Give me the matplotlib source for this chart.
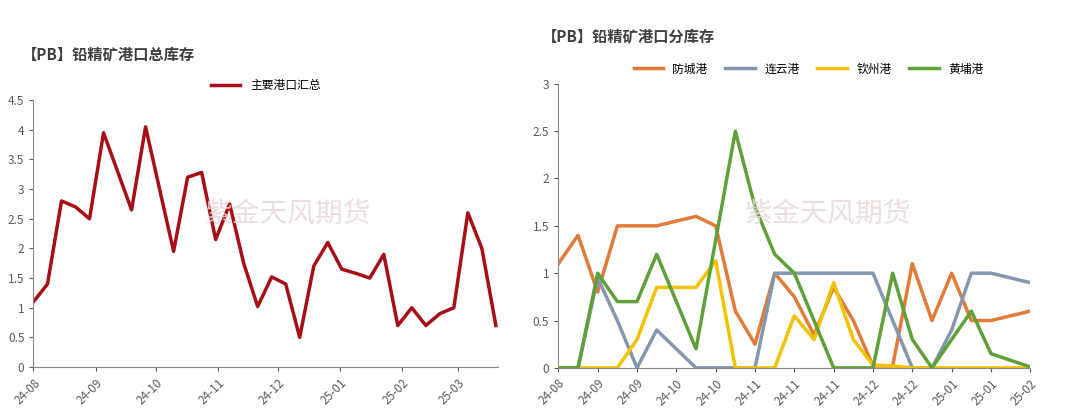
import matplotlib
matplotlib.use("Agg")
import matplotlib.pyplot as plt
import numpy as np
import pandas as pd

plt.rcParams['font.family'] = ['Noto Sans CJK SC', 'DejaVu Sans']

left_title = "【PB】铅精矿港口总库存"
left_series = "主要港口汇总"
left_vals = [1.1, 1.4, 2.8, 2.7, 2.5, 3.95, 3.3, 2.65, 4.05, 3.0, 1.95, 3.2, 3.28, 2.15,
             2.75, 1.75, 1.02, 1.52, 1.4, 0.5, 1.7, 2.1, 1.65, 1.58, 1.5, 1.9, 0.7, 1.0,
             0.7, 0.9, 1.0, 2.6, 2.0, 0.7]
left_start = "2024-08-01"
left_ticks = ["2024-08-01", "2024-09-01", "2024-10-01", "2024-11-01", "2024-12-01",
              "2025-01-01", "2025-02-01", "2025-03-01"]

right_title = "【PB】铅精矿港口分库存"
right_labels = ["24-08", "24-09", "24-09", "24-10", "24-10", "24-11", "24-11", "24-11",
                "24-12", "24-12", "25-01", "25-01", "25-02"]
names = ["防城港", "连云港", "钦州港", "黄埔港"]
fangcheng = [1.1, 1.4, 0.8, 1.5, 1.5, 1.5, 1.55, 1.6, 1.5, 0.6, 0.25, 1.0, 0.75, 0.35, 0.85,
             0.5, 0.02, 0.02, 1.1, 0.5, 1.0, 0.5, 0.5, 0.55, 0.6]
lianyun = [0, 0, 0.95, 0.5, 0, 0.4, 0.2, 0, 0, 0, 0, 1, 1, 1, 1, 1, 1, 0.5, 0, 0, 0.4, 1, 1, 0.95, 0.9]
qinzhou = [0, 0, 0, 0, 0.3, 0.85, 0.85, 0.85, 1.13, 0, 0, 0, 0.55, 0.3, 0.9, 0.3, 0.03, 0.02,
           0, 0, 0, 0, 0, 0, 0]
huangpu = [0, 0, 1.0, 0.7, 0.7, 1.2, 0.7, 0.2, 1.35, 2.5, 1.7, 1.2, 1.0, 0.5, 0, 0, 0, 1.0,
           0.3, 0, 0.3, 0.6, 0.15, 0.08, 0.01]
colors = ["#E07B39", "#8497B0", "#F2C200", "#5FA03A"]

fig = plt.figure(figsize=(10.8, 4.19), dpi=100)
ax1 = fig.add_axes([0.031, 0.124, 0.430, 0.637])
ax2 = fig.add_axes([0.517, 0.122, 0.437, 0.678])

gray = "#595959"
for ax in (ax1, ax2):
    for s in ("top", "right"):
        ax.spines[s].set_visible(False)
    for s in ("left", "bottom"):
        ax.spines[s].set_color("#888888")
    ax.tick_params(colors=gray, labelsize=8.5, length=3)

# left
dates = pd.date_range(left_start, periods=len(left_vals), freq="7D")
ax1.plot(dates, left_vals, color="#A50F15", lw=2.5, label=left_series)
ax1.set_ylim(0, 4.5)
ax1.set_yticks(np.arange(0, 4.51, 0.5))
ax1.set_yticklabels(["0", "0.5", "1", "1.5", "2", "2.5", "3", "3.5", "4", "4.5"])
ax1.set_xlim(dates[0], dates[-1] + pd.Timedelta(days=1))
tk = pd.to_datetime(left_ticks)
ax1.set_xticks(tk)
ax1.set_xticklabels([t.strftime("%y-%m") for t in tk], rotation=45, ha="right", rotation_mode="anchor")
ax1.legend(loc="lower center", bbox_to_anchor=(0.5, 1.0), frameon=False, fontsize=8.5,
           handlelength=2.5, borderaxespad=0.3)
fig.text(0.02, 0.855, left_title, fontsize=11, fontweight="bold", color="#404040")
fig.text(0.19, 0.47, "紫金天风期货", fontsize=20, color="#E8D6D6", alpha=0.8)

# right
x = np.arange(len(fangcheng))
for vals, c, n in zip([fangcheng, lianyun, qinzhou, huangpu], colors, names):
    ax2.plot(x, vals, color=c, lw=2.5, label=n)
ax2.set_ylim(0, 3)
ax2.set_yticks(np.arange(0, 3.01, 0.5))
ax2.set_yticklabels(["0", "0.5", "1", "1.5", "2", "2.5", "3"])
ax2.set_xlim(0, len(x) - 1)
ax2.set_xticks(x[::2])
ax2.set_xticklabels(right_labels, rotation=45, ha="right", rotation_mode="anchor")
ax2.legend(loc="lower center", bbox_to_anchor=(0.53, 1.0), ncol=4, frameon=False, fontsize=8.5,
           handlelength=2.5, borderaxespad=0.3, columnspacing=1.5)
fig.text(0.502, 0.9, right_title, fontsize=11, fontweight="bold", color="#404040")
fig.text(0.69, 0.47, "紫金天风期货", fontsize=20, color="#E8D6D6", alpha=0.8)

fig.savefig("out.png", dpi=100)
